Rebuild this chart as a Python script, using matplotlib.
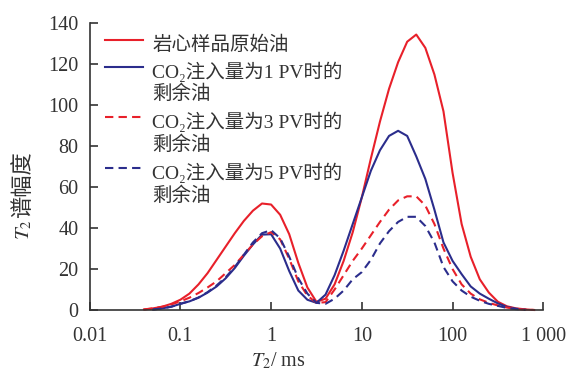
import numpy as np
import matplotlib
matplotlib.use("Agg")
import matplotlib.pyplot as plt

# fuentes: serif para numeros, CJK como respaldo para el chino
plt.rcParams['font.family'] = ['Liberation Serif', 'DejaVu Serif', 'Noto Sans CJK SC']
plt.rcParams['mathtext.fontset'] = 'stix'

# eje x: exponentes log10 de T2 (ms), cada 0.1 decada
log_t2 = [-1.4, -1.3, -1.2, -1.1, -1.0, -0.9, -0.8, -0.7, -0.6, -0.5,
          -0.4, -0.3, -0.2, -0.1, 0.0, 0.1, 0.2, 0.3, 0.4, 0.5,
          0.6, 0.7, 0.8, 0.9, 1.0, 1.1, 1.2, 1.3, 1.4, 1.5,
          1.6, 1.7, 1.8, 1.9, 2.0, 2.1, 2.2, 2.3, 2.4, 2.5,
          2.6, 2.7, 2.8, 2.9]
nan = np.nan

# valores
original = [0.3, 0.8, 1.6, 3.0, 5.0, 8.0, 12.5, 18, 24.5, 31,
            37.5, 43.5, 48.5, 52, 51.5, 46.5, 37, 23, 11, 4,
            5.5, 12.5, 24, 38, 55, 74, 92, 108, 121, 131,
            134.5, 128, 115, 97, 67, 42, 26, 15, 8.5, 4,
            1.8, 0.8, 0.3, 0]
pv1 = [nan, 0.2, 0.8, 1.6, 3.0, 4.2, 6.0, 8.5, 11.5, 15.5,
       20.5, 26.5, 32, 36.8, 37, 30, 19, 9.5, 5, 3.5,
       7.5, 17, 29, 42, 55, 68, 78, 85, 87.5, 85,
       75, 64, 49, 33, 24, 17.5, 11.5, 8, 5.5, 3.2,
       1.5, 0.6, 0.2, nan]
pv3 = [0.2, 0.8, 1.6, 2.7, 4.2, 6.0, 8.3, 11, 14, 18,
       22, 27, 32, 36, 38, 34.5, 25, 14, 7, 3.5,
       3.8, 10, 17, 24, 30, 36.5, 43, 49, 53.5, 55.5,
       55.5, 51, 42, 30, 20, 12.5, 8, 5.2, 3.5, 2.2,
       1.2, 0.5, 0.2, 0]
pv5 = [nan, 0.2, 0.8, 1.6, 3.0, 4.3, 6.1, 8.7, 12, 16,
       21, 27, 33, 37.5, 39, 35, 26, 15.5, 8, 3.5,
       3, 5.5, 9.5, 15, 18.5, 24.5, 32.5, 38.5, 43, 45.5,
       45.5, 41, 33, 21, 14, 9.5, 6.5, 4.5, 3, 2,
       1, 0.4, 0, nan]

etiquetas = [['岩心样品原始油'],
             ['CO₂注入量为1 PV时的', '剩余油'],
             ['CO₂注入量为3 PV时的', '剩余油'],
             ['CO₂注入量为5 PV时的', '剩余油']]
x_ticks = [0.01, 0.1, 1, 10, 100, 1000]
x_tick_labels = ['0.01', '0.1', '1', '10', '100', '1 000']
y_ticks = [0, 20, 40, 60, 80, 100, 120, 140]

rojo = '#e8202a'
azul = '#2b2d8c'
gris = '#333333'

t2 = 10 ** np.array(log_t2)

fig = plt.figure(figsize=(5.69, 3.72), dpi=100)
ax = fig.add_axes([0.1575, 0.1667, 0.7973, 0.7707])

series = [(original, rojo, '-'), (pv1, azul, '-'), (pv3, rojo, '--'), (pv5, azul, '--')]
for datos, color, estilo in series:
    ax.plot(t2, datos, color=color, linestyle=estilo, linewidth=1.5,
            dashes=(4, 2.5) if estilo == '--' else (None, None), clip_on=False)

ax.set_xscale('log')
ax.set_xlim(0.01, 1000)
ax.set_ylim(0, 140)
ax.set_xticks(x_ticks)
ax.set_xticklabels(x_tick_labels)
ax.minorticks_off()
ax.set_yticks(y_ticks)

for lado in ['top', 'right']:
    ax.spines[lado].set_visible(False)
for lado in ['left', 'bottom']:
    ax.spines[lado].set_color(gris)
    ax.spines[lado].set_linewidth(1.2)

ax.tick_params(axis='both', direction='in', length=6, width=1.2, color=gris,
               labelsize=14.5, labelcolor=gris)
ax.tick_params(axis='y', pad=8)
ax.tick_params(axis='x', pad=12)

# etiqueta del eje x
ax.text(0.415, -0.14, '$T_2$/ ms', transform=ax.transAxes, fontsize=14.5,
        color=gris, ha='center', va='top')

# etiqueta del eje y en dos partes: T2 en mathtext y el chino aparte
t_parte = ax.text(-0.134, 0.244, '$T_2$', transform=ax.transAxes, fontsize=15,
                  color=gris, rotation=90, rotation_mode='anchor',
                  ha='left', va='baseline')
fig.canvas.draw()
caja = t_parte.get_window_extent().transformed(ax.transAxes.inverted())
ax.text(-0.134, caja.y1 + 0.006, '谱幅度', transform=ax.transAxes, fontsize=16,
        color=gris, rotation=90, rotation_mode='anchor', ha='left', va='baseline')

# leyenda hecha a mano para que la linea quede con el primer renglon
filas = [0.942, 0.848, 0.673, 0.495]
salto = 0.079
for (datos, color, estilo), texto, yy in zip(series, etiquetas, filas):
    ax.plot([0.034, 0.118], [yy, yy], transform=ax.transAxes, color=color,
            linestyle=estilo, linewidth=1.5,
            dashes=(4, 2.5) if estilo == '--' else (None, None), clip_on=False)
    for i, renglon in enumerate(texto):
        ax.text(0.138, yy - 0.016 - i * salto, renglon, transform=ax.transAxes,
                fontsize=14, color=gris, va='center', ha='left')

fig.savefig('out.png', dpi=100)
